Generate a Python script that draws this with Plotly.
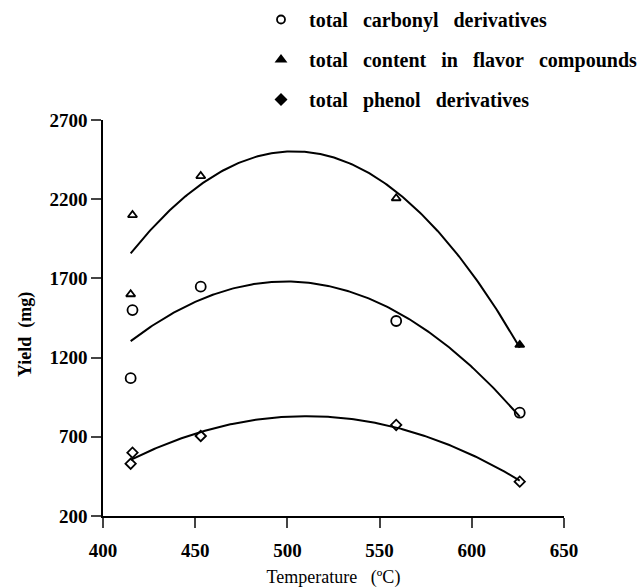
import numpy as np
import plotly.graph_objects as go

# Data
temperature = [416, 415, 453, 559, 626]
carbonyl = [1500, 1070, 1648, 1431, 852]
flavor_total = [2100, 1600, 2346, 2206, 1280]
phenol = [600, 530, 705, 775, 417]

legend_names = ["total\u00a0\u00a0\u00a0carbonyl\u00a0\u00a0\u00a0derivatives",
                "total\u00a0\u00a0\u00a0content\u00a0\u00a0\u00a0in\u00a0\u00a0\u00a0flavor\u00a0\u00a0\u00a0compounds",
                "total\u00a0\u00a0\u00a0phenol\u00a0\u00a0\u00a0derivatives"]
x_ticks = [400, 450, 500, 550, 600, 650]
y_ticks = [200, 700, 1200, 1700, 2200, 2700]

SERIF = "Liberation Serif, Times New Roman, serif"

fig = go.Figure()

xs = np.linspace(min(temperature), max(temperature), 200)
for ys in (flavor_total, carbonyl, phenol):
    coef = np.polyfit(temperature, ys, 2)
    fig.add_trace(go.Scatter(x=xs, y=np.polyval(coef, xs), mode="lines",
                             line=dict(color="black", width=2),
                             showlegend=False, hoverinfo="skip"))

# points as drawn on the chart
fig.add_trace(go.Scatter(x=temperature, y=carbonyl, mode="markers",
                         marker=dict(symbol="circle-open", size=10, color="black",
                                     line=dict(width=1.8, color="black")),
                         showlegend=False))
fig.add_trace(go.Scatter(x=temperature, y=flavor_total, mode="markers",
                         marker=dict(symbol=["triangle-up-open"] * 4 + ["triangle-up"],
                                     size=8, color="black",
                                     line=dict(width=1.8, color="black")),
                         showlegend=False))
fig.add_trace(go.Scatter(x=temperature, y=phenol, mode="markers",
                         marker=dict(symbol="diamond-open", size=8, color="black",
                                     line=dict(width=1.8, color="black")),
                         showlegend=False))

# legend entries
legend_symbols = ["circle-open", "triangle-up", "diamond"]
for i, (nm, sym) in enumerate(zip(legend_names, legend_symbols)):
    fig.add_trace(go.Scatter(x=[None], y=[None], mode="markers", name=nm,
                             legendgroup=f"g{i}",
                             marker=dict(symbol=sym, size=8, color="black",
                                         line=dict(width=1.8, color="black"))))

fig.update_layout(
    width=644, height=588,
    margin=dict(l=103, r=80, t=120, b=72, autoexpand=False),
    plot_bgcolor="white", paper_bgcolor="white",
    font=dict(family=SERIF, color="black", size=17),
    legend=dict(x=253 / 644, y=1.005, xref="container", yref="container",
                xanchor="left", yanchor="top",
                font=dict(family=SERIF, size=20, weight="bold"),
                itemwidth=46, tracegroupgap=11, bgcolor="rgba(0,0,0,0)"),
    xaxis=dict(range=[400, 650], tickvals=x_ticks, ticks="outside", ticklen=10,
               tickwidth=1.5, showline=True, linecolor="black", linewidth=1.5,
               showgrid=False, zeroline=False, ticklabelstandoff=6,
               tickfont=dict(family=SERIF, size=19, weight="bold"),
               title=dict(text="Temperature\u00a0\u00a0\u00a0(ºC)",
                          font=dict(family=SERIF, size=18), standoff=11)),
    yaxis=dict(range=[200, 2700], tickvals=y_ticks, ticks="outside", ticklen=10,
               tickwidth=1.5, showline=True, linecolor="black", linewidth=1.5,
               showgrid=False, zeroline=False,
               tickfont=dict(family=SERIF, size=19, weight="bold")),
    annotations=[dict(text="Yield\u00a0\u00a0(mg)", xref="paper", yref="paper",
                      x=(25 - 103) / (644 - 103 - 80), y=(588 - 72 - 335) / (588 - 120 - 72),
                      xanchor="center", yanchor="middle", textangle=-90,
                      showarrow=False, font=dict(family=SERIF, size=18, weight="bold"))],
)

fig.write_html("out.html")
